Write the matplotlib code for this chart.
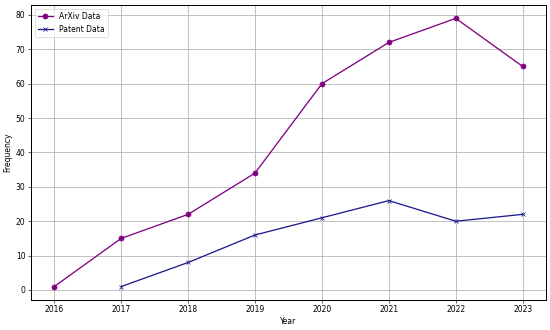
import matplotlib
matplotlib.use("Agg")
import matplotlib.pyplot as plt

arxiv_years = [2016, 2017, 2018, 2019, 2020, 2021, 2022, 2023]
arxiv_counts = [1, 15, 22, 34, 60, 72, 79, 65]
patent_years = [2017, 2018, 2019, 2020, 2021, 2022, 2023]
patent_counts = [1, 8, 16, 21, 26, 20, 22]

fig, ax = plt.subplots(figsize=(10, 6), dpi=55)
ax.plot(arxiv_years, arxiv_counts, marker='o', color='purple', label='ArXiv Data',
        linewidth=1.7, markersize=6.5)
ax.plot(patent_years, patent_counts, marker='x', color='#1c1c8c', label='Patent Data',
        linewidth=1.7, markersize=6)
ax.set_xlabel('Year')
ax.set_ylabel('Frequency')
ax.grid(True, linewidth=1.0)
for s in ax.spines.values():
    s.set_linewidth(1.3)
ax.legend(loc='upper left')
fig.subplots_adjust(left=0.056, right=0.993, top=0.985, bottom=0.091)
fig.savefig('out.png', dpi=55)
